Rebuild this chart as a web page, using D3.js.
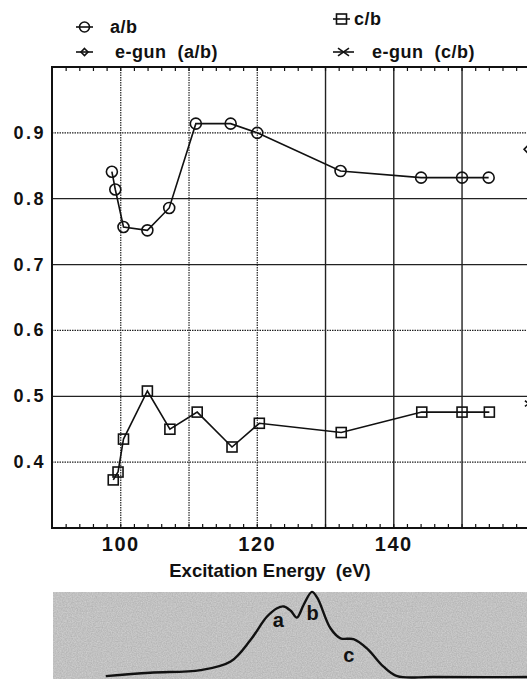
<!DOCTYPE html>
<html>
<head>
<meta charset="utf-8">
<script src="https://cdn.jsdelivr.net/npm/d3@7"></script>
<style>
  body { margin: 0; background: #fff; }
  text { font-family: "Liberation Sans", Arial, sans-serif; fill: #111; }
</style>
</head>
<body>
<div id="chart"></div>
<script>
// ratio data
var ab_energy = [98.7, 99.2, 100.4, 103.9, 107.1, 111.0, 116.1, 120.0, 132.2, 144.0, 150.0, 153.9];
var ab_ratio  = [0.841, 0.814, 0.757, 0.752, 0.786, 0.914, 0.914, 0.900, 0.842, 0.832, 0.832, 0.832];

var cb_energy = [98.9, 99.6, 100.4, 103.9, 107.2, 111.2, 116.3, 120.3, 132.3, 144.1, 150.0, 154.0];
var cb_ratio  = [0.373, 0.385, 0.435, 0.508, 0.450, 0.476, 0.423, 0.459, 0.445, 0.476, 0.476, 0.476];

var egun_ab = {energy: 159.6, ratio: 0.875};
var egun_cb = {energy: 159.8, ratio: 0.489};

var x_ticks = [100, 120, 140];
var y_ticks = [0.4, 0.5, 0.6, 0.7, 0.8, 0.9];

// absorption spectrum shown under the plot (arb. units)
var spec_energy = [97.8, 104.3, 111.7, 116.1, 119.0, 121.4, 122.9, 123.9, 124.9, 125.8, 126.8, 128.0, 128.8, 130.7, 132.2, 134.1, 136.1, 138.5, 140.5, 145.8, 163];
var spec_int    = [0.01, 0.05, 0.08, 0.18, 0.43, 0.70, 0.80, 0.82, 0.77, 0.69, 0.84, 0.99, 0.92, 0.57, 0.45, 0.44, 0.33, 0.12, 0.01, 0.0, 0.0];
var spec_labels = [{t: "a", e: 123.1, v: 0.58}, {t: "b", e: 128.1, v: 0.66}, {t: "c", e: 133.4, v: 0.17}];

var width = 527, height = 679;
var plotTop = 67, plotBottom = 528, plotLeft = 52;

var svg = d3.select('#chart').append('svg')
    .attr('width', width)
    .attr('height', height);

var x = d3.scaleLinear().domain([90, 160]).range([52.5, 530.3]);
var y = d3.scaleLinear().domain([0.3, 1.0]).range([plotBottom, plotTop]);

var defs = svg.append('defs');
defs.append('clipPath').attr('id', 'plotclip')
    .append('rect').attr('x', plotLeft).attr('y', plotTop - 8).attr('width', width - plotLeft).attr('height', plotBottom - plotTop + 16);

var grain = defs.append('filter').attr('id', 'grain')
    .attr('x', 0).attr('y', 0).attr('width', 1).attr('height', 1);
grain.append('feTurbulence').attr('type', 'fractalNoise').attr('baseFrequency', 0.8).attr('numOctaves', 2).attr('seed', 3);
grain.append('feColorMatrix').attr('type', 'matrix')
    .attr('values', '0 0 0 0 0  0 0 0 0 0  0 0 0 0 0  0 0 0 0.18 0');

// grid
var dottedX = [100, 110, 120];
var dottedY = [0.4, 0.6, 0.9];
var grid = svg.append('g');
d3.range(100, 161, 10).forEach(function(v){
    grid.append('line')
        .attr('x1', x(v)).attr('x2', x(v))
        .attr('y1', plotTop).attr('y2', plotBottom)
        .attr('stroke', '#222')
        .attr('stroke-width', dottedX.indexOf(v) >= 0 ? 1.2 : 1.4)
        .attr('stroke-dasharray', dottedX.indexOf(v) >= 0 ? '1.5,1' : null);
});
y_ticks.forEach(function(v){
    grid.append('line')
        .attr('x1', plotLeft).attr('x2', width)
        .attr('y1', y(v)).attr('y2', y(v))
        .attr('stroke', '#222')
        .attr('stroke-width', 1.2)
        .attr('stroke-dasharray', dottedY.indexOf(v) >= 0 ? '1.5,1' : null);
});

// frame
svg.append('path')
    .attr('d', 'M' + width + ',' + plotTop + 'H' + plotLeft + 'V' + plotBottom + 'H' + width)
    .attr('fill', 'none').attr('stroke', '#111').attr('stroke-width', 2);

// minor ticks on top and bottom
var minor = d3.range(92, 161, 2);
svg.append('g').selectAll('line').data(minor).enter().append('line')
    .attr('x1', d => x(d)).attr('x2', d => x(d))
    .attr('y1', plotBottom).attr('y2', plotBottom - 4)
    .attr('stroke', '#111').attr('stroke-width', 1.2);
svg.append('g').selectAll('line').data(minor).enter().append('line')
    .attr('x1', d => x(d)).attr('x2', d => x(d))
    .attr('y1', plotTop).attr('y2', plotTop + 4)
    .attr('stroke', '#111').attr('stroke-width', 1.2);

// tick labels
svg.append('g').selectAll('text').data(x_ticks).enter().append('text')
    .attr('x', d => x(d))
    .attr('y', plotBottom + 23)
    .attr('text-anchor', 'middle')
    .style('font-size', '20px')
    .style('font-weight', 'bold')
    .style('letter-spacing', '1.5px')
    .text(d => d);

svg.append('g').selectAll('text').data(y_ticks).enter().append('text')
    .attr('x', 46)
    .attr('y', d => y(d) + 6)
    .attr('text-anchor', 'end')
    .style('font-size', '18px')
    .style('font-weight', 'bold')
    .style('letter-spacing', '2.5px')
    .text(d => d.toFixed(1));

svg.append('text')
    .attr('x', 270).attr('y', 577)
    .attr('text-anchor', 'middle')
    .attr('xml:space', 'preserve')
    .style('white-space', 'pre')
    .style('font-size', '18.5px')
    .style('font-weight', 'bold')
    .text('Excitation Energy  (eV)');

// data
var plot = svg.append('g').attr('clip-path', 'url(#plotclip)');
var line = d3.line().x(d => x(d[0])).y(d => y(d[1]));
var ab = ab_energy.map((e, i) => [e, ab_ratio[i]]);
var cb = cb_energy.map((e, i) => [e, cb_ratio[i]]);

plot.append('path').attr('d', line(ab)).attr('fill', 'none').attr('stroke', '#111').attr('stroke-width', 1.6);
plot.append('path').attr('d', line(cb)).attr('fill', 'none').attr('stroke', '#111').attr('stroke-width', 1.6);

plot.selectAll('circle').data(ab).enter().append('circle')
    .attr('cx', d => x(d[0])).attr('cy', d => y(d[1])).attr('r', 5.5)
    .attr('fill', 'none').attr('stroke', '#111').attr('stroke-width', 1.6);

plot.selectAll('rect').data(cb).enter().append('rect')
    .attr('x', d => x(d[0]) - 5).attr('y', d => y(d[1]) - 5)
    .attr('width', 10).attr('height', 10)
    .attr('fill', 'none').attr('stroke', '#111').attr('stroke-width', 1.6);

function diamond(g, cx, cy, s){
    g.append('path')
        .attr('d', 'M' + cx + ',' + (cy - s) + 'L' + (cx + s) + ',' + cy + 'L' + cx + ',' + (cy + s) + 'L' + (cx - s) + ',' + cy + 'Z')
        .attr('fill', 'none').attr('stroke', '#111').attr('stroke-width', 1.6);
}
function cross(g, cx, cy, s){
    g.append('path')
        .attr('d', 'M' + (cx - s) + ',' + (cy - s * 0.7) + 'L' + (cx + s) + ',' + (cy + s * 0.7) + 'M' + (cx - s) + ',' + (cy + s * 0.7) + 'L' + (cx + s) + ',' + (cy - s * 0.7))
        .attr('stroke', '#111').attr('stroke-width', 1.6);
}
diamond(plot, x(egun_ab.energy), y(egun_ab.ratio), 3.5);
cross(plot, x(egun_cb.energy), y(egun_cb.ratio), 4);

// legend
var lg = svg.append('g');
function legendRow(x0, x1, cy, mk, label, tx){
    lg.append('line').attr('x1', x0).attr('x2', x1).attr('y1', cy).attr('y2', cy)
        .attr('stroke', '#111').attr('stroke-width', 1.6);
    var mx = (x0 + x1) / 2;
    if(mk == 'circle'){
        lg.append('circle').attr('cx', mx).attr('cy', cy).attr('r', 5)
            .attr('fill', 'none').attr('stroke', '#111').attr('stroke-width', 1.6);
    } else if(mk == 'square'){
        lg.append('rect').attr('x', mx - 5).attr('y', cy - 5).attr('width', 10).attr('height', 10)
            .attr('fill', 'none').attr('stroke', '#111').attr('stroke-width', 1.6);
    } else if(mk == 'diamond'){
        diamond(lg, mx, cy, 3.5);
    } else {
        cross(lg, mx, cy, 5.5);
    }
    lg.append('text').attr('x', tx).attr('y', cy + 6)
        .attr('xml:space', 'preserve').style('white-space', 'pre')
        .style('font-size', '18px').style('font-weight', 'bold').style('letter-spacing', '0.5px')
        .text(label);
}
legendRow(76, 93, 27, 'circle', 'a/b', 110);
legendRow(76, 93, 52, 'diamond', 'e-gun  (a/b)', 115);
legendRow(333, 350, 19, 'square', 'c/b', 354);
legendRow(333, 354, 52, 'cross', 'e-gun  (c/b)', 372);

// spectrum inset
var sy = d3.scaleLinear().domain([0, 1]).range([677, 591]);
svg.append('rect').attr('x', 53).attr('y', 592).attr('width', width - 53).attr('height', height - 592)
    .attr('fill', '#d4d4d4');
svg.append('rect').attr('x', 53).attr('y', 592).attr('width', width - 53).attr('height', height - 592)
    .attr('filter', 'url(#grain)');

var spec = spec_energy.map((e, i) => [e, spec_int[i]]);
svg.append('path')
    .attr('d', d3.line().x(d => x(d[0])).y(d => sy(d[1])).curve(d3.curveCatmullRom)(spec))
    .attr('fill', 'none').attr('stroke', '#111').attr('stroke-width', 2.4);

svg.append('g').selectAll('text').data(spec_labels).enter().append('text')
    .attr('x', d => x(d.e)).attr('y', d => sy(d.v))
    .attr('text-anchor', 'middle')
    .style('font-size', '20px').style('font-weight', 'bold')
    .text(d => d.t);
</script>
</body>
</html>
